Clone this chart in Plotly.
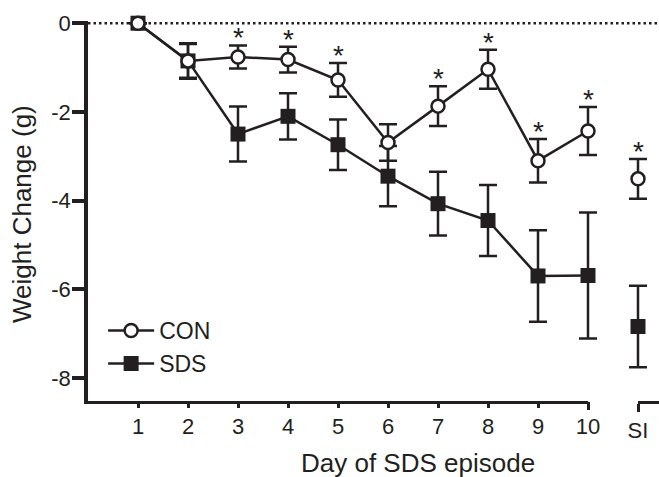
import plotly.graph_objects as go

# ---- data ----
days = ["1", "2", "3", "4", "5", "6", "7", "8", "9", "10", "SI"]
con_mean = [0.0, -0.85, -0.76, -0.82, -1.28, -2.69, -1.87, -1.04, -3.10, -2.43, -3.51]
con_sem = [0.0, 0.38, 0.26, 0.29, 0.38, 0.41, 0.45, 0.44, 0.49, 0.54, 0.45]
sds_mean = [0.0, -0.85, -2.50, -2.10, -2.74, -3.45, -4.07, -4.45, -5.70, -5.69, -6.84]
sds_sem = [0.0, 0.40, 0.62, 0.52, 0.57, 0.68, 0.72, 0.80, 1.03, 1.42, 0.92]
con_sig = [False, False, True, True, True, False, True, True, True, True, True]
y_tick_vals = [0, -2, -4, -6, -8]
y_tick_text = ["0", "-2", "-4", "-6", "-8"]

INK = "#231f20"
FONT = "Liberation Sans, Arial, Helvetica, sans-serif"

pos = list(range(1, len(days) + 1))
n_main = 10  # days 1..10 on the main axis segment, SI on the broken segment

L, R, T, B = 88, 0, 21, 76
W, H = 659, 477
pw = W - L - R
ph = H - T - B
px_per_day = 50.0
x_full = pw / px_per_day          # data range of the full-width (hidden) x axis
d1 = pos[n_main - 1] / x_full      # main segment ends at day 10
d2 = pos[n_main] / x_full          # SI segment starts at SI

fig = go.Figure()

# empty traces so the decorative axis segments get drawn
for ax in ["x2", "x3", "x4", "x5", "x6"]:
    fig.add_trace(go.Scatter(x=[], y=[], xaxis=ax, yaxis="y", showlegend=False,
                             hoverinfo="skip", mode="markers"))

def add_series(mean, sem, name, symbol, fill, size, lw):
    fig.add_trace(go.Scatter(
        x=pos[:n_main], y=mean[:n_main], name=name, mode="lines+markers",
        line=dict(color=INK, width=2.5),
        marker=dict(symbol=symbol, size=size, color=fill, line=dict(color=INK, width=lw)),
        error_y=dict(type="data", array=sem[:n_main], visible=True, color=INK, thickness=2.5, width=9),
        cliponaxis=False, showlegend=True, legendgroup=name))
    fig.add_trace(go.Scatter(
        x=pos[n_main:], y=mean[n_main:], name=name, mode="markers",
        marker=dict(symbol=symbol, size=size, color=fill, line=dict(color=INK, width=lw)),
        error_y=dict(type="data", array=sem[n_main:], visible=True, color=INK, thickness=2.5, width=9),
        cliponaxis=False, showlegend=False, legendgroup=name))

add_series(sds_mean, sds_sem, "SDS", "square", INK, 15, 0)
add_series(con_mean, con_sem, "CON", "circle", "white", 13, 2.5)

# significance asterisks above CON error bars
for i, sig in enumerate(con_sig):
    if sig:
        fig.add_annotation(
            x=pos[i], y=con_mean[i] + con_sem[i], xref="x", yref="y",
            text="*", showarrow=False, yanchor="bottom", yshift=-10,
            font=dict(size=28, color=INK, family=FONT))

# dotted zero line
fig.add_hline(y=0, line=dict(color=INK, width=2.5, dash="2.5px,3px"), layer="below")

tickfont = dict(size=22, family=FONT, color=INK)
deco = dict(showgrid=False, zeroline=False, automargin=False, anchor="y", side="bottom")

fig.update_layout(
    template="none",
    width=W, height=H,
    margin=dict(l=L, r=R, t=T, b=B, pad=0),
    plot_bgcolor="rgba(0,0,0,0)", paper_bgcolor="white",
    font=dict(family=FONT, color=INK, size=22),
    showlegend=True,
    legend=dict(x=0.0265, y=0.242, xanchor="left", yanchor="top", itemwidth=46,
                bgcolor="rgba(0,0,0,0)", borderwidth=0,
                font=dict(size=23, family=FONT, color=INK), traceorder="reversed"),
    # hidden data axis spanning the whole width
    xaxis=dict(domain=[0, 1], range=[0, x_full], visible=False, showgrid=False,
               zeroline=False, automargin=False, anchor="y"),
    # visible axis segment for days 1-10
    xaxis2=dict(domain=[0, d1], range=[0, pos[n_main - 1]], tickmode="array",
                tickvals=pos[:n_main], ticktext=days[:n_main], tickfont=tickfont,
                showline=True, linewidth=3, linecolor=INK,
                ticks="outside", ticklen=4, tickwidth=3, tickcolor=INK, **deco),
    # visible axis segment for SI
    xaxis3=dict(domain=[d2, 1], range=[pos[n_main], x_full], tickmode="array",
                tickvals=pos[n_main:], ticktext=days[n_main:], tickfont=tickfont,
                showline=True, linewidth=3, linecolor=INK,
                ticks="outside", ticklen=8, tickwidth=3, tickcolor=INK, **deco),
    # end caps of the broken axis
    xaxis4=dict(overlaying="x2", range=[0, pos[n_main - 1]], tickmode="array",
                tickvals=[pos[n_main - 1]], showticklabels=False, showline=False,
                ticks="outside", ticklen=8, tickwidth=3, tickcolor=INK, **deco),
    xaxis5=dict(overlaying="x2", range=[0, pos[n_main - 1]], tickmode="array",
                tickvals=[pos[n_main - 1]], showticklabels=False, showline=False,
                ticks="inside", ticklen=10, tickwidth=3, tickcolor=INK, **deco),
    xaxis6=dict(overlaying="x3", range=[pos[n_main], x_full], tickmode="array",
                tickvals=pos[n_main:], showticklabels=False, showline=False,
                ticks="inside", ticklen=10, tickwidth=3, tickcolor=INK, **deco),
    yaxis=dict(domain=[0, 1], range=[-8.52, 0.05], tickmode="array",
               tickvals=y_tick_vals, ticktext=y_tick_text, tickfont=tickfont,
               showline=True, linewidth=3.5, linecolor=INK,
               ticks="outside", ticklen=12, tickwidth=3.5, tickcolor=INK,
               ticklabelstandoff=-3,
               showgrid=False, zeroline=False, automargin=False, anchor="x"),
)

# axis titles
fig.add_annotation(text="Day of SDS episode", xref="paper", yref="paper",
                   x=(418 - L) / pw, y=-(463 - (H - B)) / ph,
                   xanchor="center", yanchor="middle", showarrow=False,
                   font=dict(size=26, family=FONT, color=INK))
fig.add_annotation(text="Weight Change (g)", xref="paper", yref="paper",
                   x=(22 - L) / pw, y=1 - (214 - T) / ph, textangle=-90,
                   xanchor="center", yanchor="middle", showarrow=False,
                   font=dict(size=26, family=FONT, color=INK))

# remove the browser's default page margin so the figure fills the window exactly
fig.write_html("out.html", config={"displayModeBar": False},
               post_script="document.body.style.margin='0';")
